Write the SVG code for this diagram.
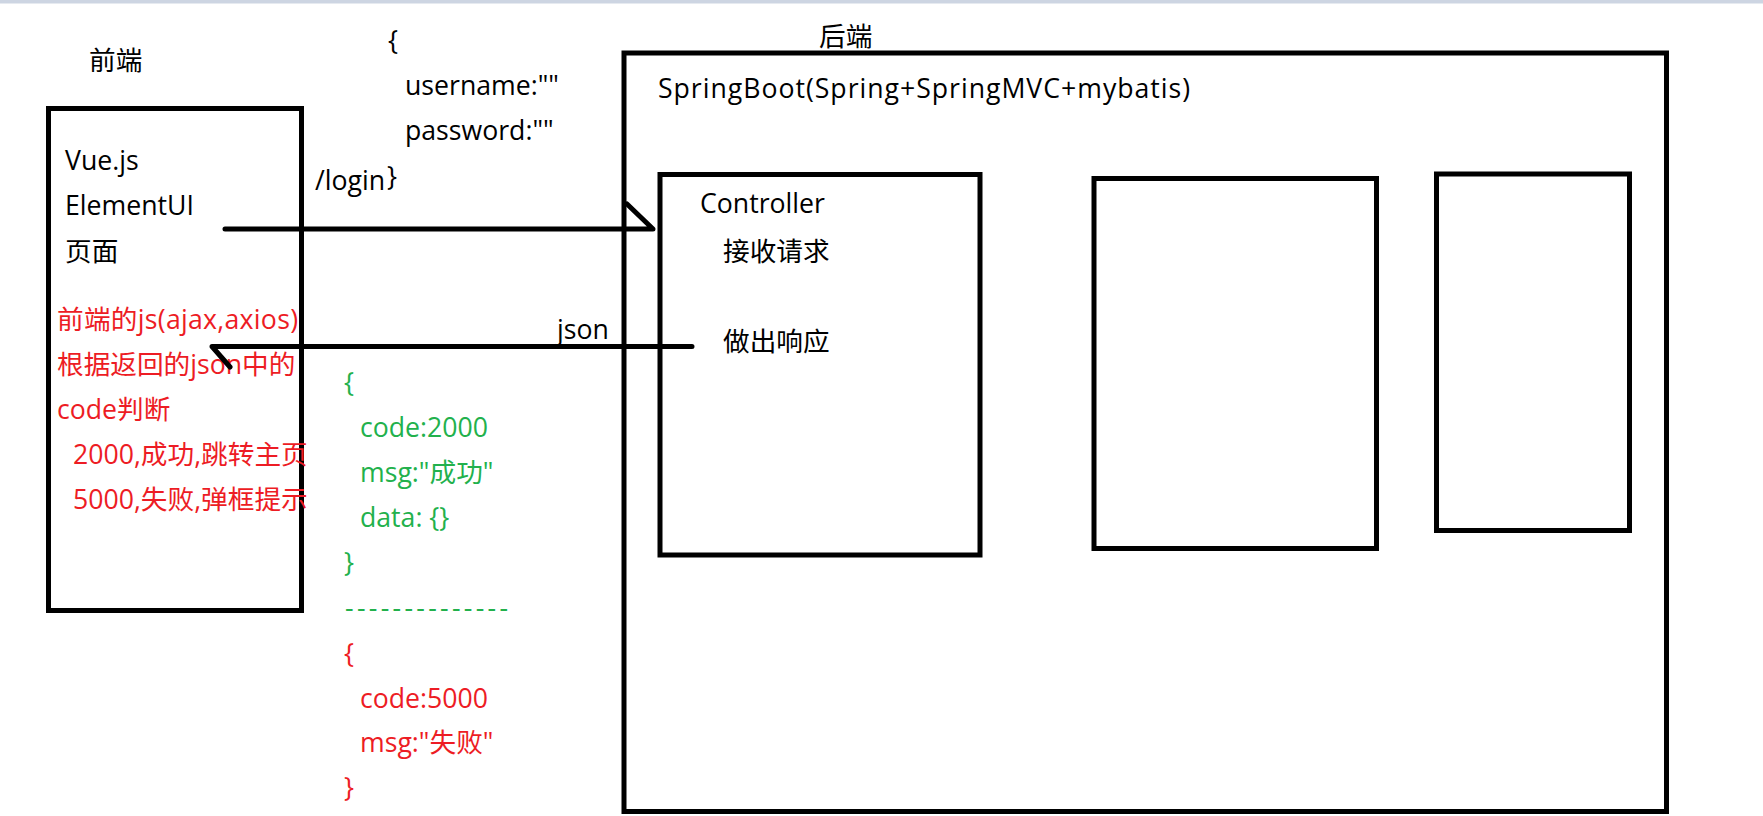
<svg xmlns="http://www.w3.org/2000/svg" width="1763" height="816" viewBox="0 0 1763 816">
<style>
  text { font-family: 'Open Sans', 'Noto Sans CJK SC', sans-serif; font-size: 26.67px; fill: #000; }
  .red { fill: #ed1c24; }
  .green { fill: #22b14c; }
  .box { fill: none; stroke: #000; stroke-width: 5; }
  .conn { fill: none; stroke: #000; stroke-width: 5; stroke-linecap: round; stroke-linejoin: round; }
</style>
<rect x="0" y="0" width="1763" height="816" fill="#fff"/>
<rect x="0" y="0" width="1763" height="3.5" fill="#cdd5e2"/>

<g id="frontend">
  <text x="89" y="70">前端</text>
  <rect class="box" x="48.5" y="108.5" width="253" height="502"/>
  <text x="65" y="170">Vue.js</text>
  <text x="65" y="215">ElementUI</text>
  <text x="65" y="261">页面</text>
  <text class="red" x="57" y="329" textLength="241" lengthAdjust="spacing">前端的js(ajax,axios)</text>
  <text class="red" x="57" y="374">根据返回的json中的</text>
  <text class="red" x="57" y="419">code判断</text>
  <text class="red" x="73" y="464">2000,成功,跳转主页</text>
  <text class="red" x="73" y="509">5000,失败,弹框提示</text>
</g>

<g id="request-json">
  <text x="388" y="50">{</text>
  <text x="405" y="95">username:""</text>
  <text x="405" y="140">password:""</text>
  <text x="315" y="190">/login</text>
  <text x="387" y="186">}</text>
</g>

<g id="response-json">
  <text class="green" x="344" y="392">{</text>
  <text class="green" x="360" y="437">code:2000</text>
  <text class="green" x="360" y="482">msg:"成功"</text>
  <text class="green" x="360" y="527">data: {}</text>
  <text class="green" x="344" y="572">}</text>
  <text class="green" x="345" y="617" textLength="163" lengthAdjust="spacing">--------------</text>
  <text class="red" x="344" y="663">{</text>
  <text class="red" x="360" y="708">code:5000</text>
  <text class="red" x="360" y="752">msg:"失败"</text>
  <text class="red" x="344" y="797">}</text>
</g>

<g id="backend">
  <text x="819" y="46">后端</text>
  <rect class="box" x="624" y="53" width="1042.5" height="758.5"/>
  <text x="658" y="98" textLength="532" lengthAdjust="spacing">SpringBoot(Spring+SpringMVC+mybatis)</text>
</g>

<g id="controller">
  <rect class="box" x="660" y="174.5" width="320" height="380.5"/>
  <text x="700" y="213">Controller</text>
  <text x="723" y="261">接收请求</text>
  <text x="723" y="351">做出响应</text>
</g>

<g id="box2">
  <rect class="box" x="1094" y="178.5" width="282.5" height="370"/>
</g>

<g id="box3">
  <rect class="box" x="1436.5" y="174" width="193" height="356.5"/>
</g>

<g id="connectors">
  <path class="conn" d="M225 229 L653 229 L627 204"/>
  <path class="conn" d="M692 346.5 L212 346.5 L230 367"/>
  <text x="557" y="339">json</text>
</g>
</svg>
